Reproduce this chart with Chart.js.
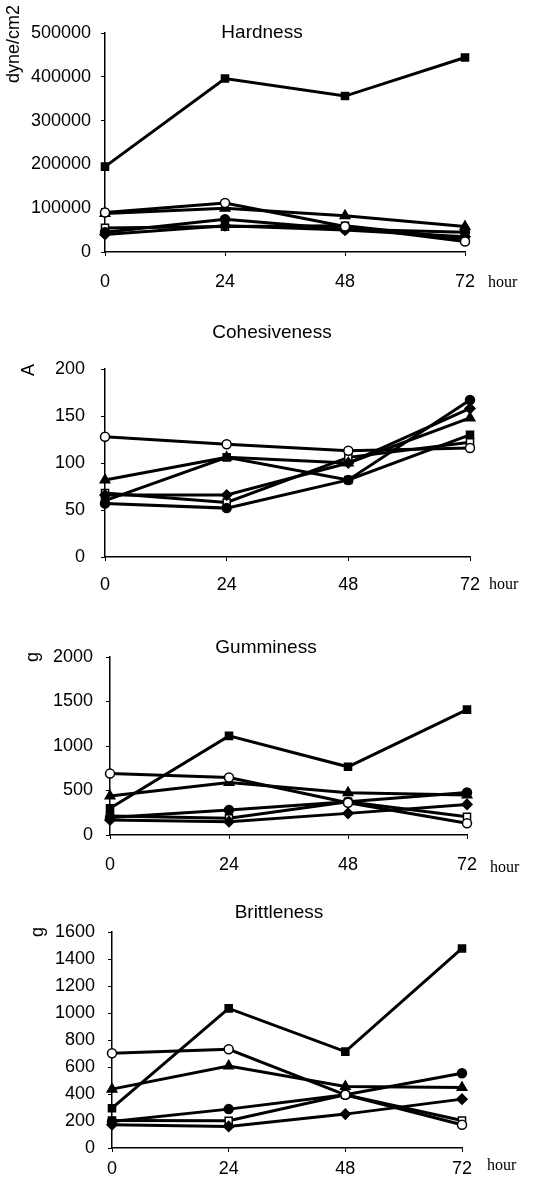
<!DOCTYPE html>
<html>
<head>
<meta charset="utf-8">
<script src="https://cdn.jsdelivr.net/npm/chart.js@4"></script>
<style>
  body { margin: 0; background: #fff; width: 553px; height: 1188px; position: relative; overflow: hidden; }
  canvas { position: absolute; left: 0; }
</style>
</head>
<body>
<canvas id="hardnessChart" width="553" height="300" style="top:0px"></canvas>
<canvas id="cohesivenessChart" width="553" height="300" style="top:300px"></canvas>
<canvas id="gumminessChart" width="553" height="290" style="top:600px"></canvas>
<canvas id="brittlenessChart" width="553" height="298" style="top:890px"></canvas>
<script>
var hours = ["0", "24", "48", "72"];

// Hardness (dyne/cm2)
var hardnessSqFilled = [195000, 396000, 356000, 444000];
var hardnessCircOpen = [90000, 112000, 58000, 24000];
var hardnessTriFilled = [88000, 100000, 83000, 58000];
var hardnessCircFilled = [45000, 75000, 52000, 45000];
var hardnessDiamFilled = [40000, 60000, 50000, 35000];
var hardnessSqOpen = [55000, 58000, 60000, 30000];

// Cohesiveness (A)
var cohesSqFilled = [60, 106, 82, 130];
var cohesCircOpen = [128, 120, 113, 116];
var cohesTriFilled = [82, 106, 100, 148];
var cohesCircFilled = [57, 52, 82, 167];
var cohesDiamFilled = [66, 66, 100, 158];
var cohesSqOpen = [68, 58, 106, 122];

// Gumminess (g)
var gumSqFilled = [300, 1114, 766, 1409];
var gumCircOpen = [690, 647, 363, 131];
var gumTriFilled = [437, 590, 475, 449];
var gumCircFilled = [198, 280, 374, 478];
var gumDiamFilled = [168, 150, 243, 344];
var gumSqOpen = [213, 187, 374, 205];

// Brittleness (g)
var britSqFilled = [295, 1034, 714, 1478];
var britCircOpen = [702, 731, 394, 172];
var britTriFilled = [436, 608, 456, 448];
var britCircFilled = [197, 288, 394, 554];
var britDiamFilled = [172, 160, 251, 362];
var britSqOpen = [204, 202, 394, 204];

var markers = [
  { style: "rect", fill: "#000", r: 5 },
  { style: "circle", fill: "#fff", r: 4.5 },
  { style: "triangle", fill: "#000", r: 5.5 },
  { style: "circle", fill: "#000", r: 4.5 },
  { style: "rectRot", fill: "#000", r: 5 },
  { style: "rect", fill: "#fff", r: 5 }
];

var panelText = {
  id: "panelText",
  afterDraw: function(chart, args, opts) {
    var ctx = chart.ctx;
    ctx.save();
    ctx.fillStyle = "#000";
    ctx.font = '19px "Liberation Sans", Arial, sans-serif';
    ctx.textAlign = "center";
    ctx.textBaseline = "middle";
    ctx.fillText(opts.title, opts.titleX, opts.titleY);
    ctx.save();
    ctx.translate(opts.unitX, opts.unitY);
    ctx.rotate(-Math.PI / 2);
    ctx.font = '18px "Liberation Sans", Arial, sans-serif';
    ctx.fillText(opts.unit, 0, 0);
    ctx.restore();
    ctx.font = '16px "Liberation Serif", serif';
    ctx.textAlign = "left";
    ctx.fillText("hour", opts.hourX, opts.hourY);
    ctx.restore();
  }
};

function makePanel(id, series, g) {
  var datasets = series.map(function(data, i) {
    return {
      data: data,
      borderColor: "#000",
      borderWidth: 3,
      tension: 0,
      pointStyle: markers[i].style,
      pointRadius: markers[i].r,
      pointBackgroundColor: markers[i].fill,
      pointBorderColor: "#000",
      pointBorderWidth: 1.5
    };
  });
  var canvas = document.getElementById(id);
  return new Chart(canvas, {
    type: "line",
    data: { labels: hours, datasets: datasets },
    plugins: [panelText],
    options: {
      responsive: false,
      animation: false,
      layout: { padding: { top: g.top, right: 553 - g.right, left: 0, bottom: 0 } },
      plugins: {
        legend: { display: false },
        tooltip: { enabled: false },
        panelText: g.text
      },
      scales: {
        x: {
          offset: false,
          grid: { display: true, drawOnChartArea: false, tickLength: 4, color: "#000" },
          border: { display: true, color: "#000", width: 1.5 },
          ticks: {
            color: "#000",
            padding: g.xPad,
            maxRotation: 0,
            font: { family: '"Liberation Sans", Arial, sans-serif', size: 18 }
          },
          afterFit: function(scale) { scale.height = canvas.height - g.bottom; }
        },
        y: {
          min: 0,
          max: g.max,
          grid: { display: true, drawOnChartArea: false, tickLength: 4, color: "#000" },
          border: { display: true, color: "#000", width: 1.5 },
          ticks: {
            stepSize: g.step,
            color: "#000",
            padding: g.yPad,
            font: { family: '"Liberation Sans", Arial, sans-serif', size: 18 },
            callback: function(v) { return String(v); }
          },
          afterFit: function(scale) { scale.width = g.left; }
        }
      }
    }
  });
}

makePanel("hardnessChart",
  [hardnessSqFilled, hardnessCircOpen, hardnessTriFilled, hardnessCircFilled, hardnessDiamFilled, hardnessSqOpen],
  { left: 105, right: 465, top: 33, bottom: 252, max: 500000, step: 100000, xPad: 15, yPad: 10,
    text: { title: "Hardness", titleX: 262, titleY: 33, unit: "dyne/cm2", unitX: 14, unitY: 44, hourX: 488, hourY: 283 } });

makePanel("cohesivenessChart",
  [cohesSqFilled, cohesCircOpen, cohesTriFilled, cohesCircFilled, cohesDiamFilled, cohesSqOpen],
  { left: 105, right: 470, top: 69, bottom: 257, max: 200, step: 50, xPad: 13, yPad: 16,
    text: { title: "Cohesiveness", titleX: 272, titleY: 33, unit: "A", unitX: 29, unitY: 70, hourX: 489, hourY: 285 } });

makePanel("gumminessChart",
  [gumSqFilled, gumCircOpen, gumTriFilled, gumCircFilled, gumDiamFilled, gumSqOpen],
  { left: 110, right: 467, top: 57, bottom: 235, max: 2000, step: 500, xPad: 15, yPad: 13,
    text: { title: "Gumminess", titleX: 266, titleY: 48, unit: "g", unitX: 33, unitY: 57, hourX: 490, hourY: 268 } });

makePanel("brittlenessChart",
  [britSqFilled, britCircOpen, britTriFilled, britCircFilled, britDiamFilled, britSqOpen],
  { left: 112, right: 462, top: 42, bottom: 258, max: 1600, step: 200, xPad: 6, yPad: 13,
    text: { title: "Brittleness", titleX: 279, titleY: 23, unit: "g", unitX: 38, unitY: 42, hourX: 487, hourY: 276 } });
</script>
</body>
</html>
